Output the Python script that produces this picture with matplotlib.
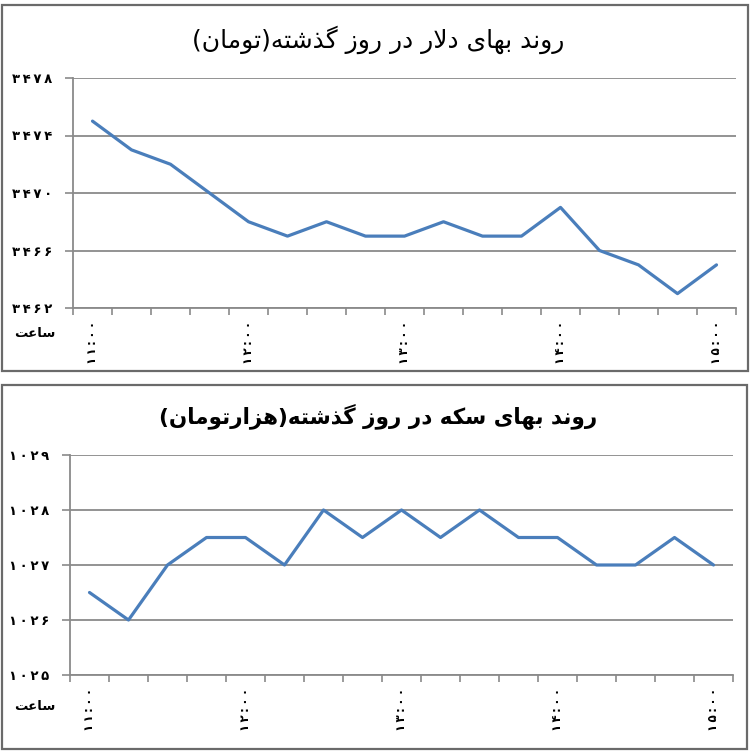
import numpy as np
import matplotlib
matplotlib.use("Agg")
import matplotlib.pyplot as plt
from matplotlib.patches import Rectangle
from matplotlib.ticker import FuncFormatter

# data (15-minute steps, 11:00 .. 15:00)
hour_labels = ["۱۱:۰۰", "۱۲:۰۰", "۱۳:۰۰", "۱۴:۰۰", "۱۵:۰۰"]
dollar = [3475, 3473, 3472, 3470, 3468, 3467, 3468, 3467, 3467,
          3468, 3467, 3467, 3469, 3466, 3465, 3463, 3465]
coin = [1026.5, 1026, 1027, 1027.5, 1027.5, 1027, 1028, 1027.5, 1028,
        1027.5, 1028, 1027.5, 1027.5, 1027, 1027, 1027.5, 1027]

title_dollar = "روند بهای دلار در روز گذشته(تومان)"
title_coin = "روند بهای سکه در روز گذشته(هزارتومان)"
hour_word = "ساعت"

# matplotlib has no arabic shaping, so pick the presentation forms by hand
# (isolated, final, initial, medial)
FORMS = {
    "ا": ("\uFE8D", "\uFE8E", None, None),
    "ب": ("\uFE8F", "\uFE90", "\uFE91", "\uFE92"),
    "ت": ("\uFE95", "\uFE96", "\uFE97", "\uFE98"),
    "د": ("\uFEA9", "\uFEAA", None, None),
    "ذ": ("\uFEAB", "\uFEAC", None, None),
    "ر": ("\uFEAD", "\uFEAE", None, None),
    "ز": ("\uFEAF", "\uFEB0", None, None),
    "س": ("\uFEB1", "\uFEB2", "\uFEB3", "\uFEB4"),
    "ش": ("\uFEB5", "\uFEB6", "\uFEB7", "\uFEB8"),
    "ع": ("\uFEC9", "\uFECA", "\uFECB", "\uFECC"),
    "ل": ("\uFEDD", "\uFEDE", "\uFEDF", "\uFEE0"),
    "م": ("\uFEE1", "\uFEE2", "\uFEE3", "\uFEE4"),
    "ن": ("\uFEE5", "\uFEE6", "\uFEE7", "\uFEE8"),
    "ه": ("\uFEE9", "\uFEEA", "\uFEEB", "\uFEEC"),
    "و": ("\uFEED", "\uFEEE", None, None),
    "\u06CC": ("\uFBFC", "\uFBFD", "\uFBFE", "\uFBFF"),
    "\u064A": ("\uFBFC", "\uFBFD", "\uFBFE", "\uFBFF"),
    "\u06A9": ("\uFB8E", "\uFB8F", "\uFB90", "\uFB91"),
    "\u0643": ("\uFB8E", "\uFB8F", "\uFB90", "\uFB91"),
    "\u06AF": ("\uFB92", "\uFB93", "\uFB94", "\uFB95"),
}


def fa(text):
    out = []
    i = 0
    while i < len(text):
        ch = text[i]
        if ch not in FORMS:
            out.append(ch)
            i += 1
            continue
        prev = text[i - 1] if i > 0 else ""
        joins_prev = prev in FORMS and FORMS[prev][2] is not None
        if ch == "ل" and i + 1 < len(text) and text[i + 1] == "ا":
            out.append("\uFEFC" if joins_prev else "\uFEFB")
            i += 2
            continue
        nxt = text[i + 1] if i + 1 < len(text) else ""
        joins_next = FORMS[ch][2] is not None and nxt in FORMS
        iso, fin, ini, med = FORMS[ch]
        if joins_prev and joins_next:
            out.append(med)
        elif joins_prev:
            out.append(fin)
        elif joins_next:
            out.append(ini)
        else:
            out.append(iso)
        i += 1
    vis = "".join(reversed(out))
    return vis.translate(str.maketrans("()", ")("))


fa_digits = str.maketrans("0123456789", "۰۱۲۳۴۵۶۷۸۹")


def spaced(s):
    # the digits in the original are set wide apart
    return "\u2009".join(s)


plt.rcParams["font.family"] = ["DejaVu Sans"]
line_color = "#4a7ebb"
grid_color = "#8a8a8a"

fig = plt.figure(figsize=(7.5, 7.51), dpi=100)
W, H = 750, 751


def px_axes(x0, y0, x1, y1):
    return fig.add_axes([x0 / W, 1 - y1 / H, (x1 - x0) / W, (y1 - y0) / H])


def draw_panel(ax, values, yticks, title, title_y, title_size, title_weight, word_y):
    n = len(values)
    x = np.arange(n)
    ax.plot(x, values, color=line_color, lw=2.3, solid_joinstyle="round",
            solid_capstyle="round", zorder=3)
    ax.set_xlim(-0.5, n - 0.5)
    ax.set_ylim(yticks[0], yticks[-1])
    ax.set_yticks(yticks)
    ax.yaxis.set_major_formatter(
        FuncFormatter(lambda v, p: spaced(f"{v:.0f}".translate(fa_digits))))
    ax.grid(axis="y", color=grid_color, lw=1.3)
    ax.set_axisbelow(True)
    # category boundaries carry the tick marks, hour labels sit on the points
    ax.set_xticks(np.arange(-0.5, n), labels=[])
    ax.set_xticks(x[::4], labels=[spaced(h) for h in hour_labels], minor=True)
    ax.tick_params(axis="x", which="major", length=5, width=1.2, color=grid_color)
    ax.tick_params(axis="x", which="minor", length=0, pad=9, labelrotation=90,
                   labelsize=8.5, labelcolor="black")
    ax.tick_params(axis="y", length=6, width=1.2, color=grid_color, pad=9,
                   labelsize=9.5)
    for lab in ax.get_yticklabels() + ax.get_xticklabels(minor=True):
        lab.set_fontweight("bold")
    for side in ["top", "right"]:
        ax.spines[side].set_visible(False)
    for side in ["left", "bottom"]:
        ax.spines[side].set_color(grid_color)
        ax.spines[side].set_linewidth(1.3)
    fig.text(378 / W, 1 - title_y / H, fa(title), ha="center", va="center",
             fontsize=title_size, fontweight=title_weight)
    fig.text(35 / W, 1 - word_y / H, fa(hour_word), ha="center", va="center",
             fontsize=9.5, fontweight="bold")


ax1 = px_axes(73, 78, 736, 308)
draw_panel(ax1, dollar, [3462, 3466, 3470, 3474, 3478], title_dollar,
           40, 18, "normal", 333)

ax2 = px_axes(70, 455, 733, 675)
draw_panel(ax2, coin, [1025, 1026, 1027, 1028, 1029], title_coin,
           416, 15.5, "bold", 706)

# frames round the two charts
for x0, y0, x1, y1 in [(2, 5, 748, 371), (2, 385, 747, 749)]:
    fig.patches.append(Rectangle((x0 / W, 1 - y1 / H), (x1 - x0) / W, (y1 - y0) / H,
                                 transform=fig.transFigure, fill=False,
                                 edgecolor="#6a6a6a", lw=1.6))

fig.savefig("out.png", dpi=100)
